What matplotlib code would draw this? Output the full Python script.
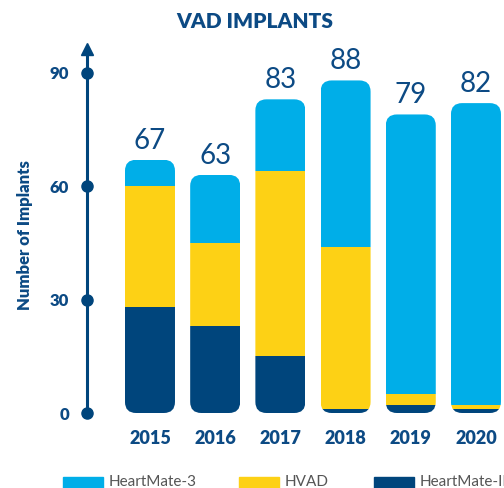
import matplotlib
matplotlib.use("Agg")
import matplotlib.pyplot as plt
from matplotlib.patches import FancyBboxPatch, Rectangle

# data
years = ["2015", "2016", "2017", "2018", "2019", "2020"]
heartmate_2 = [28, 23, 15, 1, 2, 1]
hvad = [32, 22, 49, 43, 3, 1]
heartmate_3 = [7, 18, 19, 44, 74, 80]
totals = [67, 63, 83, 88, 79, 82]
y_ticks = [0, 30, 60, 90]

navy = "#00457c"
text_navy = "#0c4a84"
yellow = "#fdd115"
light_blue = "#00aee8"

plt.rcParams["font.family"] = ["Lato", "DejaVu Sans"]

fig = plt.figure(figsize=(5.04, 4.88), dpi=100)
ax = fig.add_axes([87 / 504, 75 / 488, 417 / 504, 373 / 488])
ax.set_xlim(-0.966, 5.43)
ax.set_ylim(0, 98.7)
for s in ax.spines.values():
    s.set_visible(False)

x = list(range(len(years)))
width = 0.767
bottoms2 = heartmate_2
bottoms3 = [a + b for a, b in zip(heartmate_2, hvad)]
b1 = ax.bar(x, heartmate_2, width, color=navy)
b2 = ax.bar(x, hvad, width, bottom=bottoms2, color=yellow)
b3 = ax.bar(x, heartmate_3, width, bottom=bottoms3, color=light_blue)

# rounded bar outlines used as clip paths
aspect = (1 / 3.778) / (1 / 65.2)
for i, tot in enumerate(totals):
    clip = FancyBboxPatch((i - width / 2, 0), width, tot,
                          boxstyle="round,pad=0,rounding_size=0.17",
                          mutation_aspect=aspect, transform=ax.transData,
                          facecolor="none", edgecolor="none")
    ax.add_patch(clip)
    for cont in (b1, b2, b3):
        cont[i].set_clip_path(clip)
    ax.text(i, tot + 1.6, str(tot), ha="center", va="bottom", fontsize=20,
            color=text_navy, fontweight="normal")

# y axis line with dots and arrow
ax.plot([-0.966, -0.966], [0, 95.5], color=navy, lw=2.2, clip_on=False,
        solid_capstyle="butt")
ax.plot([-0.966] * len(y_ticks), y_ticks, "o", color=navy, ms=8, clip_on=False)
ax.plot(-0.966, 96.2, marker="^", color=navy, ms=9, clip_on=False)

ax.set_yticks(y_ticks)
ax.set_yticklabels([str(t) for t in y_ticks], fontweight="heavy", fontsize=12,
                   color=text_navy)
ax.tick_params(axis="y", length=0, pad=13)
ax.set_xticks(x)
ax.set_xticklabels(years, fontweight="heavy", fontsize=13, color=text_navy)
ax.tick_params(axis="x", length=0, pad=12)

fig.text(25 / 504, 1 - 235 / 488, "Number of Implants", rotation=90,
         ha="center", va="center", fontsize=12, fontweight="heavy",
         color=text_navy)
fig.text(255 / 504, 1 - 22 / 488, "VAD IMPLANTS", ha="center", va="center",
         fontsize=15, fontweight="heavy", color=text_navy)

# legend along the bottom edge
legend_names = ["HeartMate-3", "HVAD", "HeartMate-II"]
legend_colors = [light_blue, yellow, navy]
legend_x = [63, 239, 374]
for name, col, lx in zip(legend_names, legend_colors, legend_x):
    fig.patches.append(Rectangle((lx / 504, -0.01), 40 / 504, 0.0325,
                                 transform=fig.transFigure, color=col))
    fig.text((lx + 46) / 504, 6 / 488, name, ha="left", va="center",
             fontsize=11, color="#555555")

fig.savefig("out.png", dpi=100)
